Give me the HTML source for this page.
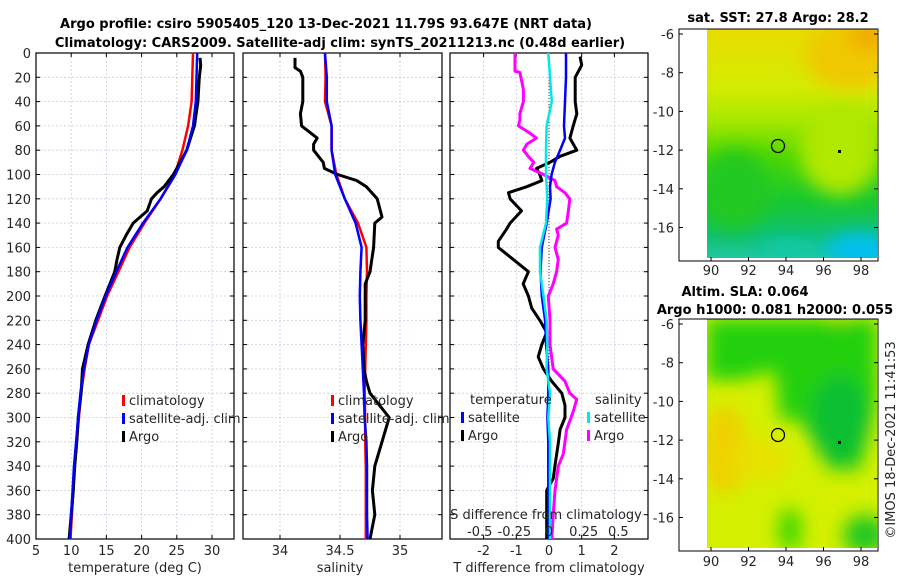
<!DOCTYPE html>
<html><head><meta charset="utf-8"><style>
body{margin:0;background:#fff;}
svg{display:block;font-family:"DejaVu Sans","Liberation Sans",sans-serif;}
.tk{font-size:13px;fill:#262626;}
.tt{font-size:13px;font-weight:bold;fill:#000;}
</style></head><body>
<svg id="fig" width="900" height="580" viewBox="0 0 900 580">
<defs>
<filter id="bl" x="-30%" y="-30%" width="160%" height="160%"><feGaussianBlur stdDeviation="9"/></filter>
<clipPath id="c1"><rect x="707" y="29" width="170" height="229"/></clipPath>
<clipPath id="c2"><rect x="707" y="319" width="170" height="229"/></clipPath>
<linearGradient id="gsst" x1="0" y1="0" x2="0" y2="1">
<stop offset="0" stop-color="#e8dc00"/><stop offset="0.25" stop-color="#d4ec00"/><stop offset="0.4" stop-color="#a8e800"/>
<stop offset="0.55" stop-color="#50d800"/><stop offset="0.75" stop-color="#18c830"/><stop offset="0.9" stop-color="#10c070"/><stop offset="1" stop-color="#20c8a0"/></linearGradient>
</defs>
<text class="tt" x="326" y="28" text-anchor="middle">Argo profile: csiro 5905405_120 13-Dec-2021 11.79S 93.647E (NRT data)</text>
<text class="tt" x="340" y="47" text-anchor="middle">Climatology: CARS2009. Satellite-adj clim: synTS_20211213.nc (0.48d earlier)</text>
<g id="p1"></g>
<g id="p2"></g>
<g id="p3"></g>

<!-- maps -->
<g>
<text class="tt" x="778" y="22" text-anchor="middle">sat. SST: 27.8 Argo: 28.2</text>
<g clip-path="url(#c1)">
<rect x="707" y="29" width="170" height="229" fill="url(#gsst)"/>
<g filter="url(#bl)">
<ellipse cx="850" cy="55" rx="45" ry="35" fill="#f0c800"/>
<ellipse cx="870" cy="35" rx="20" ry="14" fill="#f0a800"/>
<ellipse cx="840" cy="150" rx="40" ry="45" fill="#b0e800"/>
<ellipse cx="735" cy="190" rx="35" ry="40" fill="#20c820"/>
<ellipse cx="860" cy="250" rx="35" ry="18" fill="#00c0f0"/>
<ellipse cx="790" cy="250" rx="30" ry="12" fill="#10c8a8"/>
</g></g>
<rect x="679" y="29" width="199" height="232" fill="none" stroke="#000"/>
<circle cx="778" cy="146" r="6.5" fill="none" stroke="#000" stroke-width="1.3"/>
<rect x="838" y="150" width="3" height="3" fill="#000"/>
</g>
<g>
<text class="tt" x="745" y="296" text-anchor="middle">Altim. SLA: 0.064</text>
<text class="tt" x="775" y="314" text-anchor="middle">Argo h1000: 0.081 h2000: 0.055</text>
<g clip-path="url(#c2)">
<rect x="707" y="319" width="170" height="229" fill="#d4f000"/>
<g filter="url(#bl)">
<ellipse cx="840" cy="330" rx="20" ry="14" fill="#f0d800"/>
<ellipse cx="725" cy="450" rx="22" ry="45" fill="#f0d000"/>
<path d="M707 319 L877 319 L877 400 L860 470 L830 470 L800 420 L780 420 L775 370 L740 380 L707 380 Z" fill="#20d010"/>
<ellipse cx="840" cy="420" rx="30" ry="45" fill="#10c030"/>
<ellipse cx="790" cy="530" rx="12" ry="22" fill="#40d800"/>
<ellipse cx="865" cy="535" rx="22" ry="20" fill="#20c820"/>
<ellipse cx="760" cy="460" rx="30" ry="20" fill="#e8e000"/>
</g></g>
<rect x="679" y="319" width="199" height="232" fill="none" stroke="#000"/>
<circle cx="778" cy="435" r="6.5" fill="none" stroke="#000" stroke-width="1.3"/>
<rect x="838" y="441" width="3" height="3" fill="#000"/>
</g>
<g id="maptk"></g>
<text class="tk" transform="translate(895,440) rotate(-90)" text-anchor="middle">©IMOS 18-Dec-2021 11:41:53</text>
</svg>
<script>
// ---- data ----
const depthTicks=[0,20,40,60,80,100,120,140,160,180,200,220,240,260,280,300,320,340,360,380,400];
const tTicks=[5,10,15,20,25,30];
const sTicks=[34,34.5,35];
const tdTicks=[-2,-1,0,1,2];
const sdTicks=[-0.5,-0.25,0,0.25,0.5];
const sdTickLabels=["-0.5","-0.25","0","0.25","0.5"];
const stdDepth=[0,20,40,60,80,100,120,140,160,180,200,220,240,260,280,300,320,340,360,380,400];
const climT=[27.3,27.2,27.1,26.6,25.8,24.7,22.7,20.4,18.3,16.7,15.1,13.8,12.5,11.9,11.4,11.1,10.8,10.5,10.3,10.1,9.9];
const satT=[27.9,27.8,27.7,27.3,26.4,24.8,22.7,20.2,18.0,16.4,14.9,13.6,12.5,11.8,11.3,11.0,10.7,10.4,10.2,10.0,9.8];
const argoTDepth=[4,10,20,40,60,80,90,100,110,115,120,130,140,150,160,170,180,200,220,240,255,260,280,300,320,340,360,380,400];
const argoT=[28.3,28.4,28.2,28.0,27.5,26.4,25.5,24.5,23.2,22.2,21.4,20.8,18.8,17.8,16.9,16.5,16.2,14.8,13.5,12.4,11.8,11.6,11.4,11.0,10.8,10.5,10.3,10.0,9.7];
const climS=[34.375,34.38,34.375,34.43,34.43,34.47,34.54,34.65,34.72,34.725,34.72,34.72,34.715,34.71,34.705,34.71,34.71,34.715,34.715,34.715,34.715];
const satS=[34.375,34.39,34.39,34.43,34.43,34.46,34.54,34.63,34.68,34.67,34.665,34.67,34.68,34.69,34.70,34.705,34.72,34.725,34.725,34.725,34.73];
const argoSDepth=[4,12,15,20,40,50,60,70,75,80,90,95,100,105,110,120,135,140,160,180,190,200,220,240,260,270,280,290,300,320,340,360,380,400];
const argoS=[34.125,34.125,34.17,34.19,34.19,34.17,34.18,34.31,34.28,34.28,34.36,34.37,34.48,34.64,34.72,34.81,34.85,34.79,34.78,34.75,34.71,34.71,34.71,34.69,34.70,34.72,34.75,34.83,34.91,34.85,34.79,34.77,34.79,34.75];
const satTdDepth=[0,20,40,60,70,80,90,100,110,120,140,160,180,200,220,240,260,280,300,320,340,360,400];
const satTd=[0.52,0.52,0.49,0.46,0.49,0.34,0.18,0.08,0.03,0.05,-0.07,-0.22,-0.26,-0.22,-0.12,-0.09,-0.02,-0.02,-0.05,-0.02,-0.02,-0.02,-0.02];
const argoTdDepth=[3,10,20,40,50,60,70,80,85,90,95,100,105,110,115,120,130,140,145,155,160,170,180,190,200,210,220,230,240,250,260,270,280,290,300,310,320,340,350,360,380,400];
const argoTd=[0.95,1.0,0.8,0.8,0.85,0.74,0.64,0.85,0.34,0.03,-0.38,-0.28,-0.22,-0.68,-1.24,-1.19,-0.84,-1.19,-1.3,-1.55,-1.55,-1.09,-0.63,-0.79,-0.63,-0.53,-0.28,-0.07,-0.22,-0.33,-0.17,0.08,0.39,0.49,0.49,0.34,0.29,0.18,0.13,-0.07,-0.07,-0.07];
const satSdDepth=[0,20,40,60,80,100,120,140,160,180,200,220,240,260,280,300,320,360,400];
const satSd=[-0.005,0.007,0.02,-0.017,-0.022,-0.022,-0.012,-0.022,-0.065,-0.065,-0.04,-0.017,-0.012,-0.017,0.007,-0.005,0.007,0.007,0.007];
const argoSdDepth=[0,15,16,30,40,50,55,60,65,70,75,80,85,90,95,100,105,110,115,120,130,140,145,150,160,170,180,190,200,220,240,260,270,280,285,295,310,330,340,360,380,400];
const argoSd=[-0.245,-0.245,-0.21,-0.185,-0.185,-0.21,-0.21,-0.22,-0.15,-0.09,-0.16,-0.185,-0.15,-0.11,-0.137,-0.04,0.043,0.055,0.115,0.15,0.14,0.127,0.055,0.067,0.043,0.067,0.055,0.03,-0.005,0.007,0.007,0.03,0.115,0.15,0.2,0.175,0.127,0.103,0.067,0.043,0.03,0.02];
const mapLonTicks=[90,92,94,96,98];
const mapLatTicks=[-6,-8,-10,-12,-14,-16];

// ---- helpers ----
const NS="http://www.w3.org/2000/svg";
function mk(parent,tag,attrs){const e=document.createElementNS(NS,tag);for(const k in attrs)e.setAttribute(k,attrs[k]);parent.appendChild(e);return e;}
const Y0=53,Y1=539;
const yD=d=>Y0+(Y1-Y0)*d/400;
function lin(d0,d1,p0,p1){return v=>p0+(v-d0)*(p1-p0)/(d1-d0);}
function frame(g,x0,x1,xTicks,xfn,showY){
  depthTicks.forEach(d=>{
    const l=mk(g,'line',{x1:x0,x2:x1,y1:yD(d),y2:yD(d),stroke:'#c8cde0','stroke-dasharray':'2,2','stroke-width':0.8});
    
    
    mk(g,'line',{x1:x0,x2:x0+4,y1:yD(d),y2:yD(d),stroke:'#000'});
    mk(g,'line',{x1:x1,x2:x1-4,y1:yD(d),y2:yD(d),stroke:'#000'});
    if(showY){const t=mk(g,'text',{x:31,y:yD(d)+5,'text-anchor':'end',class:'tk'});t.textContent=d;
      
      }
  });
  xTicks.forEach(v=>{const x=xfn(v);
    const l=mk(g,'line',{x1:x,x2:x,y1:Y0,y2:Y1,stroke:'#c8cde0','stroke-dasharray':'2,2','stroke-width':0.8});
    
    
    mk(g,'line',{x1:x,x2:x,y1:Y1,y2:Y1-4,stroke:'#000'});
    mk(g,'line',{x1:x,x2:x,y1:Y0,y2:Y0+4,stroke:'#000'});
  });
  const r=mk(g,'rect',{x:x0,y:Y0,width:x1-x0,height:Y1-Y0,fill:'none',stroke:'#000','stroke-width':1.2});
  
  
}
function xlabels(g,ticks,labels,xfn,y){ticks.forEach((v,i)=>{const t=mk(g,'text',{x:xfn(v),y:y,'text-anchor':'middle',class:'tk'});t.textContent=labels?labels[i]:v;
  
  });}
function line(g,xs,ds,xfn,color,w,name){
  const p=mk(g,'polyline',{points:xs.map((v,i)=>xfn(v).toFixed(1)+','+yD(ds[i]).toFixed(1)).join(' '),fill:'none',stroke:color,'stroke-width':w,'stroke-linejoin':'round'});
  
  
}
function txt(g,x,y,s,name,anchor){const t=mk(g,'text',{x:x,y:y,class:'tk','text-anchor':anchor||'start'});t.textContent=s;
  
  return t;}
function legend(g,x,y,items){items.forEach((it,i)=>{
  const m=mk(g,'rect',{x:x,y:y+i*18-10,width:3,height:11,fill:it[1]});
  
  
  txt(g,x+7,y+i*18,it[0],'legend-entry');});}

// panel 1
const g1=document.getElementById('p1');
const xT=lin(5,30,36,212);
frame(g1,36,234,tTicks,xT,true);
xlabels(g1,tTicks,null,xT,555);
txt(g1,135,572,'temperature (deg C)','x-axis-title','middle');
line(g1,climT,stdDepth,xT,'#ff0000',2.5,'climatology-temperature-line');
line(g1,argoT,argoTDepth,xT,'#000',3,'argo-temperature-line');
line(g1,satT,stdDepth,xT,'#0000ff',2.5,'satellite-temperature-line');
legend(g1,122,405,[['climatology','#ff0000'],['satellite-adj. clim','#0000ff'],['Argo','#000']]);

// panel 2
const g2=document.getElementById('p2');
const xS=lin(34,35,280,400);
frame(g2,243,442,sTicks,xS,false);
xlabels(g2,sTicks,null,xS,555);
txt(g2,340,572,'salinity','x-axis-title','middle');
line(g2,climS,stdDepth,xS,'#ff0000',2.5,'climatology-salinity-line');
line(g2,argoS,argoSDepth,xS,'#000',3,'argo-salinity-line');
line(g2,satS,stdDepth,xS,'#0000ff',2.5,'satellite-salinity-line');
legend(g2,331,405,[['climatology','#ff0000'],['satellite-adj. clim','#0000ff'],['Argo','#000']]);

// panel 3
const g3=document.getElementById('p3');
const xTd=lin(0,1,549,581.7);
const xSd=lin(0,0.5,549,618.3);
frame(g3,450,648,tdTicks,xTd,false);
xlabels(g3,tdTicks,null,xTd,555);
txt(g3,549,572,'T difference from climatology','x-axis-title','middle');
const zl=mk(g3,'line',{x1:549,x2:549,y1:Y0,y2:Y1,stroke:'#444','stroke-dasharray':'1,2','stroke-width':1});


line(g3,argoTd,argoTdDepth,xTd,'#000',3,'argo-t-diff-line');
line(g3,argoSd,argoSdDepth,xSd,'#ff00ff',3,'argo-s-diff-line');
line(g3,satTd,satTdDepth,xTd,'#0000ff',2.5,'satellite-t-diff-line');
line(g3,satSd,satSdDepth,xSd,'#00e8e8',2.5,'satellite-s-diff-line');
txt(g3,470,404,'temperature','legend-title');
txt(g3,595,404,'salinity','legend-title');
legend(g3,461,422,[['satellite','#0000ff'],['Argo','#000']]);
legend(g3,587,422,[['satellite','#00e8e8'],['Argo','#ff00ff']]);
txt(g3,546,519,'S difference from climatology','s-axis-title','middle');
xlabels(g3,sdTicks,sdTickLabels,xSd,536);

// map ticks
const gm=document.getElementById('maptk');
const lonX=lin(90,98,711,861);
[[34,275,29,261],[324,566,319,551]].forEach(([lat6,ylab,top,bot])=>{
  const latY=lin(-6,-16,lat6,lat6+193.5);
  mapLonTicks.forEach(v=>{mk(gm,'line',{x1:lonX(v),x2:lonX(v),y1:bot,y2:bot-4,stroke:'#000'});
    txt(gm,lonX(v),ylab,v,'map-lon-label','middle');});
  mapLatTicks.forEach(v=>{mk(gm,'line',{x1:679,x2:683,y1:latY(v),y2:latY(v),stroke:'#000'});
    mk(gm,'line',{x1:878,x2:874,y1:latY(v),y2:latY(v),stroke:'#000'});
    txt(gm,674,latY(v)+5,v,'map-lat-label','end');});
});
</script>
</body></html>
